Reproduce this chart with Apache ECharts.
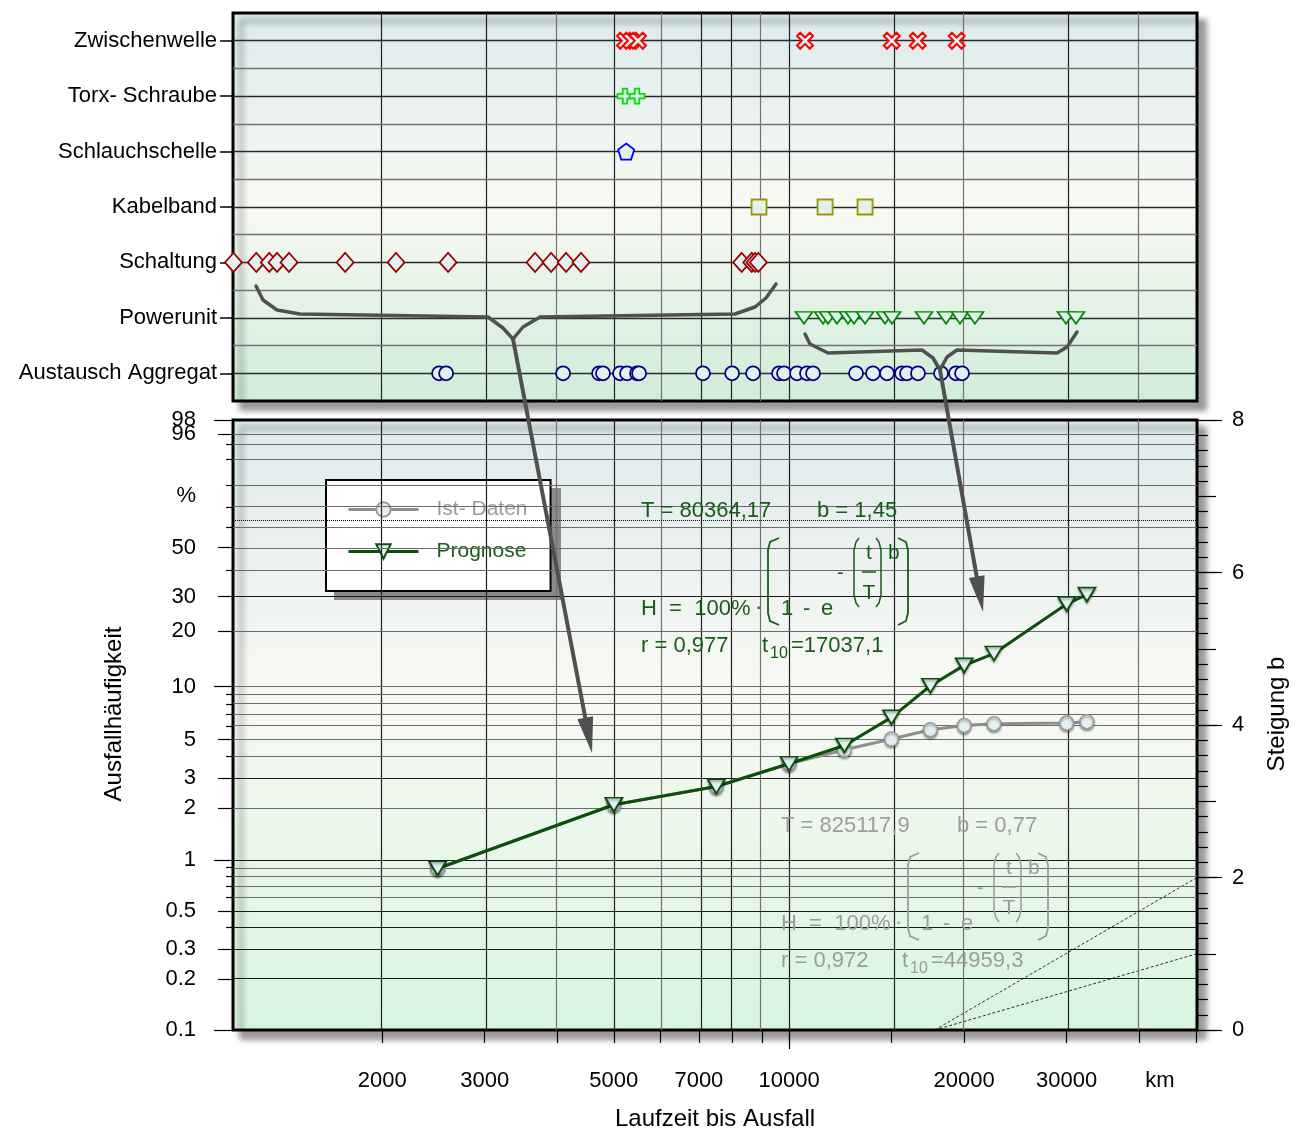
<!DOCTYPE html>
<html><head><meta charset="utf-8">
<script src="https://cdn.jsdelivr.net/npm/echarts@6/dist/echarts.min.js"></script>
<style>html,body{margin:0;padding:0;background:#fff}#c{width:1305px;height:1133px}</style>
</head><body><div id="c"></div>
<script>
// ---------- DATA ----------
const categories = ['Zwischenwelle', 'Torx- Schraube', 'Schlauchschelle', 'Kabelband', 'Schaltung', 'Powerunit', 'Austausch Aggregat'];
const zwischenwelle = [5226, 5353, 5502, 10654, 15017, 16640, 19418];
const torxSchraube = [5226, 5480];
const schlauchschelle = [5250];
const kabelband = [8881, 11533, 13510];
const schaltung = [1110, 1215, 1279, 1319, 1383, 1727, 2112, 2595, 3661, 3901, 4139, 4391, 8291, 8629, 8743, 8858];
const powerunit = [10611, 11441, 11668, 12090, 12628, 12930, 13506, 14620, 15031, 17059, 18613, 19670, 20870, 29917, 31124];
const austauschAggregat = [2504, 2575, 4090, 4716, 4790, 5124, 5268, 5481, 5525, 7114, 7984, 8673, 9612, 9804, 10322, 10737, 10997, 13035, 13939, 14737, 15637, 15948, 16657, 18248, 19360, 19829];

const laufzeit = [2490, 5000, 7500, 10000, 12450, 15000, 17500, 20000, 22500, 30000, 32500];
const istDaten = [0.89, 2.10, 2.68, 3.63, 4.37, 5.04, 5.70, 6.03, 6.17, 6.22, 6.33];
const prognose = [0.89, 2.10, 2.68, 3.63, 4.63, 6.70, 10.1, 13.1, 15.2, 27.6, 30.7];

const slopeStartKm = 17800;
const slopeEndB = [2.0, 1.0];

const xRangeKm = [1108, 50240];
const xTickLabels = [2000, 3000, 5000, 7000, 10000, 20000, 30000];
const xTickMarks = [2000, 3000, 4000, 5000, 6000, 7000, 8000, 9000, 10000, 15000, 20000, 30000, 40000, 50000];
const xGridLines = [2000, 3000, 4000, 5000, 6000, 7000, 8000, 9000, 10000, 15000, 20000, 30000, 40000];
const xGridDark = [2000, 3000, 5000, 7000, 8000, 10000, 15000, 30000];

const yRangePct = [0.1, 98];
const yLabelPct = [0.1, 0.2, 0.3, 0.5, 1, 2, 3, 5, 10, 20, 30, 50, 96, 98];
const yLabelText = ['0.1', '0.2', '0.3', '0.5', '1', '2', '3', '5', '10', '20', '30', '50', '96', '98'];
const yLongTicks = [0.1, 1, 10, 98];
const yMidTicks = [0.2, 0.3, 0.5, 2, 3, 5, 20, 30, 50, 96];
const yShortTicks = [0.4, 0.6, 0.7, 0.8, 0.9, 4, 6, 7, 8, 9, 40, 60, 70, 80, 90, 94];
const yGridLines = [0.2, 0.3, 0.4, 0.5, 0.6, 0.7, 0.8, 0.9, 1, 2, 3, 4, 5, 6, 7, 8, 9, 10, 20, 30, 40, 50, 60, 70, 80, 90, 94, 96];
const yGridDark = [0.2, 0.3, 0.4, 0.5, 1, 3, 30];
const bRange = [0, 8];

// ---------- helpers ----------
const lx = v => Math.log10(v);
const wz = p => Math.log(-Math.log(1 - p / 100));
const FONT = "'Liberation Sans', Arial, sans-serif";
const markerFill = '#e3f0f0';
const greenText = '#175c17';
const grayText = '#9c9c9c';
const kmLabelAt = 43400;      // layout position of the unit label
const percentLabelAt = 75.5;  // layout position of the "%" label

const xLabVals = xTickLabels.concat([kmLabelAt]);
const xLabTexts = xTickLabels.map(String).concat(['km']);
const yLabVals = yLabelPct.concat([percentLabelAt]);
const yLabTexts = yLabelText.concat(['%']);
function nearestText(v, vals, texts, f) {
  let bi = 0, bd = Infinity;
  vals.forEach((p, i) => { const d = Math.abs(f(p) - v); if (d < bd) { bd = d; bi = i; } });
  return texts[bi];
}

const gradTop = {type: 'linear', x: 0, y: 0, x2: 0, y2: 1, colorStops: [
  {offset: 0, color: '#dcebec'}, {offset: 0.5, color: '#f8f9f3'}, {offset: 1, color: '#d0ecd8'}]};
const gradBottom = {type: 'linear', x: 0, y: 0, x2: 0, y2: 1, colorStops: [
  {offset: 0, color: '#deebec'}, {offset: 0.45, color: '#f8f9f3'}, {offset: 1, color: '#d8f5de'}]};

const gridCommon = {show: true, borderColor: '#000', borderWidth: 3, containLabel: false, outerBoundsMode: 'none',
  shadowColor: 'rgba(0,0,0,0.38)', shadowBlur: 6, shadowOffsetX: 8, shadowOffsetY: 8};

const xMin = lx(xRangeKm[0]), xMax = lx(xRangeKm[1]);
const hiddenAxis = {axisLine: {show: false, onZero: false}, axisTick: {show: false}, axisLabel: {show: false}, splitLine: {show: false}};
const axisFont = {color: '#000', fontSize: 22, fontFamily: FONT};
const nameFont = {color: '#000', fontSize: 24, fontFamily: FONT};

// ---------- symbols ----------
const symX = 'path://M2,0L5,3L8,0L10,2L7,5L10,8L8,10L5,7L2,10L0,8L3,5L0,2Z';
const symPlus = 'path://M3.5,0L6.5,0L6.5,3.5L10,3.5L10,6.5L6.5,6.5L6.5,10L3.5,10L3.5,6.5L0,6.5L0,3.5L3.5,3.5Z';
const symPent = 'path://M5,0L10,3.8L8.1,10L1.9,10L0,3.8Z';
const symDown = 'path://M0,0L10,0L5,8Z';

function topSeries(name, arr, idx, symbol, size, color, bw) {
  return {type: 'scatter', name, xAxisIndex: 0, yAxisIndex: 0, z: 5, silent: true, symbol, symbolSize: size,
    itemStyle: {color: markerFill, borderColor: color, borderWidth: bw || 1.6, opacity: 1},
    data: arr.map(v => [lx(v), idx])};
}

// grid lines via markLine
const topGridLines = [];
xGridLines.forEach(v => topGridLines.push({xAxis: lx(v), lineStyle: {color: xGridDark.includes(v) ? '#202020' : '#727272', width: 1.2, type: 'solid'}}));
for (let k = 0; k <= 12; k++) {
  const v = k / 2;
  topGridLines.push({yAxis: v, lineStyle: {color: (k % 2 === 0) ? '#2a2a2a' : '#737373', width: 1.4, type: 'solid'}});
}
const botGridLines = [];
xGridLines.forEach(v => botGridLines.push({xAxis: lx(v), lineStyle: {color: xGridDark.includes(v) ? '#202020' : '#727272', width: 1.2, type: 'solid'}}));
yGridLines.forEach(p => botGridLines.push({yAxis: wz(p), lineStyle: {color: yGridDark.includes(p) ? '#1a1a1a' : '#6a6a6a', width: 1.2, type: 'solid'}}));
botGridLines.push({yAxis: 0, lineStyle: {color: '#000', width: 1, type: 'dotted'}});

function gridSeries(xi, yi, data) {
  return {type: 'line', xAxisIndex: xi, yAxisIndex: yi, data: [], z: 1, silent: true,
    markLine: {silent: true, symbol: ['none', 'none'], label: {show: false}, animation: false, emphasis: {disabled: true}, data}};
}

// ---------- annotations ----------
const G = [];
const annColor = '#505050';
// legend drop shadow
G.push({type: 'rect', z: 3, silent: true, shape: {x: 334, y: 488, width: 227, height: 112}, style: {fill: '#8a8a8a'}});
function poly(points, w) {
  G.push({type: 'polyline', z: 100, silent: true, shape: {points}, style: {stroke: annColor, lineWidth: w, fill: null, lineJoin: 'round', lineCap: 'round'}});
}
function arrow(from, tip) {
  const dx = tip[0] - from[0], dy = tip[1] - from[1], L = Math.hypot(dx, dy);
  const ux = dx / L, uy = dy / L, hl = 36, hw = 8;
  const bx = tip[0] - ux * hl, by = tip[1] - uy * hl;
  poly([from, [bx + ux * 3, by + uy * 3]], 4);
  G.push({type: 'polygon', z: 100, silent: true, shape: {points: [tip, [bx - uy * hw, by + ux * hw], [bx + uy * hw, by - ux * hw]]}, style: {fill: annColor}});
}
poly([[256, 286], [263, 300], [277, 310], [300, 314], [488, 317], [503, 328], [513, 339], [523, 327], [540, 317], [735, 314], [755, 307], [766, 298], [776, 284]], 3.5);
arrow([513, 339], [592, 753]);
poly([[805, 334], [810, 344], [828, 353], [922, 350], [933, 358], [940, 370], [947, 357], [957, 350], [1057, 353], [1067, 347], [1077, 332]], 3.5);
arrow([940, 370], [983, 612]);

function paren(x0, x1, top, bot, color, w) {
  const s = x1 > x0 ? 1 : -1;
  G.push({type: 'polyline', z: 60, silent: true, shape: {points: [[x1, top], [x0 + 2 * s, top + 4], [x0, top + 12], [x0, bot - 12], [x0 + 2 * s, bot - 4], [x1, bot]]},
    style: {stroke: color, lineWidth: w, fill: null}});
}
function formula(ox, oy, color, tText, bText, rText, tenText) {
  const txt = (x, y, s, size, align) => G.push({type: 'text', z: 60, silent: true, x: x + ox, y: y + oy,
    style: {text: s, fill: color, font: size + 'px ' + FONT, align: align || 'left', verticalAlign: 'middle'}});
  txt(641, 511, tText, 22);
  txt(817, 511, bText, 22);
  txt(641, 609, 'H  =  100%', 22);
  txt(755, 608, '·', 22);
  paren(768 + ox, 779 + ox, 538 + oy, 625 + oy, color, 1.8);
  txt(781, 609, '1', 22);
  txt(803, 609, '-', 22);
  txt(821, 609, 'e', 22);
  txt(837, 573, '-', 20);
  paren(854 + ox, 859 + ox, 538 + oy, 607 + oy, color, 1.5);
  txt(869, 553, 't', 21, 'center');
  G.push({type: 'line', z: 60, silent: true, shape: {x1: 862 + ox, y1: 572 + oy, x2: 876 + ox, y2: 572 + oy}, style: {stroke: color, lineWidth: 1.5}});
  txt(869, 593, 'T', 21, 'center');
  paren(881 + ox, 876 + ox, 538 + oy, 607 + oy, color, 1.5);
  txt(888, 553, 'b', 21);
  paren(908 + ox, 898 + ox, 538 + oy, 625 + oy, color, 1.8);
  txt(641, 646, rText, 22);
  txt(762, 646, 't', 22);
  txt(770, 654, '10', 16);
  txt(791, 646, tenText, 22);
}
formula(0, 0, greenText, 'T = 80364,17', 'b = 1,45', 'r = 0,977', '=17037,1');
formula(140, 315, grayText, 'T = 825117,9', 'b = 0,77', 'r = 0,972', '=44959,3');

// ---------- option ----------
const option = {
  animation: false,
  backgroundColor: '#fff',
  textStyle: {fontFamily: FONT},
  grid: [
    Object.assign({left: 233, top: 13, width: 964, height: 388, backgroundColor: gradTop}, gridCommon),
    Object.assign({left: 233, top: 420, width: 964, height: 610, backgroundColor: gradBottom}, gridCommon)
  ],
  legend: {
    left: 326, top: 480, orient: 'vertical', selectedMode: false, z: 4,
    backgroundColor: '#fff', borderColor: '#000', borderWidth: 2, borderRadius: 0,
    padding: [19, 23, 29, 21], itemWidth: 70, itemHeight: 18, itemGap: 21,
    lineStyle: {width: 3},
    textStyle: {fontSize: 21, fontFamily: FONT, padding: [0, 0, 0, 13]},
    data: [{name: 'Ist- Daten', textStyle: {color: grayText}}, {name: 'Prognose', textStyle: {color: greenText}}]
  },
  xAxis: [
    Object.assign({gridIndex: 0, type: 'value', min: xMin, max: xMax}, hiddenAxis),
    {gridIndex: 1, type: 'value', min: xMin, max: xMax, position: 'bottom',
      name: 'Laufzeit bis Ausfall', nameLocation: 'middle', nameGap: 77, nameTextStyle: nameFont,
      axisLine: {show: false, onZero: false},
      axisTick: {show: true, customValues: xTickMarks.map(lx), length: 13, lineStyle: {color: '#000', width: 1.2}},
      axisLabel: Object.assign({show: true, customValues: xLabVals.map(lx), margin: 40, hideOverlap: false,
        formatter: v => nearestText(v, xLabVals, xLabTexts, lx)}, axisFont),
      splitLine: {show: false}},
    {gridIndex: 1, type: 'value', min: xMin, max: xMax, position: 'bottom',
      axisLine: {show: false, onZero: false},
      axisTick: {show: true, customValues: [lx(10000)], length: 19, lineStyle: {color: '#000', width: 1.2}},
      axisLabel: {show: false}, splitLine: {show: false}}
  ],
  yAxis: [
    {gridIndex: 0, type: 'value', min: -0.5, max: 6.5, inverse: true, position: 'left',
      axisLine: {show: false, onZero: false},
      axisTick: {show: true, customValues: [0, 1, 2, 3, 4, 5, 6], length: 13, lineStyle: {color: '#000', width: 1.5}},
      axisLabel: Object.assign({customValues: [0, 1, 2, 3, 4, 5, 6], margin: 16, hideOverlap: false,
        formatter: v => categories[Math.round(v)]}, axisFont),
      splitLine: {show: false}},
    {gridIndex: 1, type: 'value', min: wz(yRangePct[0]), max: wz(yRangePct[1]), position: 'left',
      name: 'Ausfallhäufigkeit', nameLocation: 'middle', nameGap: 107, nameRotate: 90,
      nameTextStyle: Object.assign({padding: [0, 0, 0, 22]}, nameFont),
      axisLine: {show: false, onZero: false},
      axisTick: {show: true, customValues: yMidTicks.map(wz), length: 15, lineStyle: {color: '#000', width: 1.2}},
      axisLabel: Object.assign({customValues: yLabVals.map(wz), margin: 37, hideOverlap: false,
        formatter: v => nearestText(v, yLabVals, yLabTexts, wz)}, axisFont),
      splitLine: {show: false}},
    {gridIndex: 1, type: 'value', min: wz(yRangePct[0]), max: wz(yRangePct[1]), position: 'left',
      axisLine: {show: false, onZero: false},
      axisTick: {show: true, customValues: yLongTicks.map(wz), length: 19, lineStyle: {color: '#000', width: 1.2}},
      axisLabel: {show: false}, splitLine: {show: false}},
    {gridIndex: 1, type: 'value', min: wz(yRangePct[0]), max: wz(yRangePct[1]), position: 'left',
      axisLine: {show: false, onZero: false},
      axisTick: {show: true, customValues: yShortTicks.map(wz), length: 7, lineStyle: {color: '#000', width: 1.2}},
      axisLabel: {show: false}, splitLine: {show: false}},
    {gridIndex: 1, type: 'value', min: bRange[0], max: bRange[1], interval: 2, position: 'right',
      name: 'Steigung b', nameLocation: 'middle', nameGap: 68, nameRotate: 90,
      nameTextStyle: Object.assign({padding: [0, 0, 0, 22]}, nameFont),
      axisLine: {show: false, onZero: false},
      axisTick: {show: true, length: 25, lineStyle: {color: '#000', width: 1.2}},
      axisLabel: Object.assign({margin: 35}, axisFont),
      splitLine: {show: false}},
    {gridIndex: 1, type: 'value', min: bRange[0], max: bRange[1], interval: 1, position: 'right',
      axisLine: {show: false, onZero: false},
      axisTick: {show: true, length: 19, lineStyle: {color: '#000', width: 1.2}},
      minorTick: {show: true, splitNumber: 5, length: 11, lineStyle: {color: '#000', width: 1.2}},
      axisLabel: {show: false}, splitLine: {show: false}, minorSplitLine: {show: false}}
  ],
  series: [
    gridSeries(0, 0, topGridLines),
    gridSeries(1, 1, botGridLines),
    topSeries('Zwischenwelle', zwischenwelle, 0, symX, 16, '#ff0000', 2),
    topSeries('Torx- Schraube', torxSchraube, 1, symPlus, 15, '#00dd00', 1.8),
    topSeries('Schlauchschelle', schlauchschelle, 2, symPent, 16, '#0000ff', 1.8),
    topSeries('Kabelband', kabelband, 3, 'rect', 15, '#999900', 1.8),
    topSeries('Schaltung', schaltung, 4, 'diamond', [17, 19], '#990000', 1.8),
    topSeries('Powerunit', powerunit, 5, symDown, [17, 12], '#008800', 1.6),
    topSeries('Austausch Aggregat', austauschAggregat, 6, 'circle', 14, '#000080', 1.8),
    {type: 'line', name: 'slope1', xAxisIndex: 1, yAxisIndex: 4, silent: true, symbol: 'none', z: 3,
      lineStyle: {color: '#000', width: 0.8, type: [3, 2]},
      data: [[lx(slopeStartKm), 0], [xMax, slopeEndB[0]]]},
    {type: 'line', name: 'slope2', xAxisIndex: 1, yAxisIndex: 4, silent: true, symbol: 'none', z: 3,
      lineStyle: {color: '#000', width: 0.8, type: [3, 2]},
      data: [[lx(slopeStartKm), 0], [xMax, slopeEndB[1]]]},
    {type: 'line', name: 'Ist- Daten', xAxisIndex: 1, yAxisIndex: 1, z: 6, silent: true,
      symbol: 'circle', symbolSize: 14, showAllSymbol: true,
      lineStyle: {color: '#8e8e8e', width: 3},
      itemStyle: {color: markerFill, borderColor: '#9a9a9a', borderWidth: 1.6,
        shadowColor: 'rgba(0,0,0,0.3)', shadowBlur: 2, shadowOffsetY: 2},
      data: laufzeit.map((t, i) => [lx(t), wz(istDaten[i])])},
    {type: 'line', name: 'Prognose', xAxisIndex: 1, yAxisIndex: 1, z: 7, silent: true,
      symbol: symDown, symbolSize: [17, 14], showAllSymbol: true,
      lineStyle: {color: '#0b4f0b', width: 3},
      itemStyle: {color: markerFill, borderColor: '#0b4f0b', borderWidth: 1.8,
        shadowColor: 'rgba(0,0,0,0.3)', shadowBlur: 2, shadowOffsetY: 2},
      data: laufzeit.map((t, i) => [lx(t), wz(prognose[i])])}
  ],
  graphic: {elements: G}
};
const chart = echarts.init(document.getElementById('c'));
chart.setOption(option);
</script></body></html>
